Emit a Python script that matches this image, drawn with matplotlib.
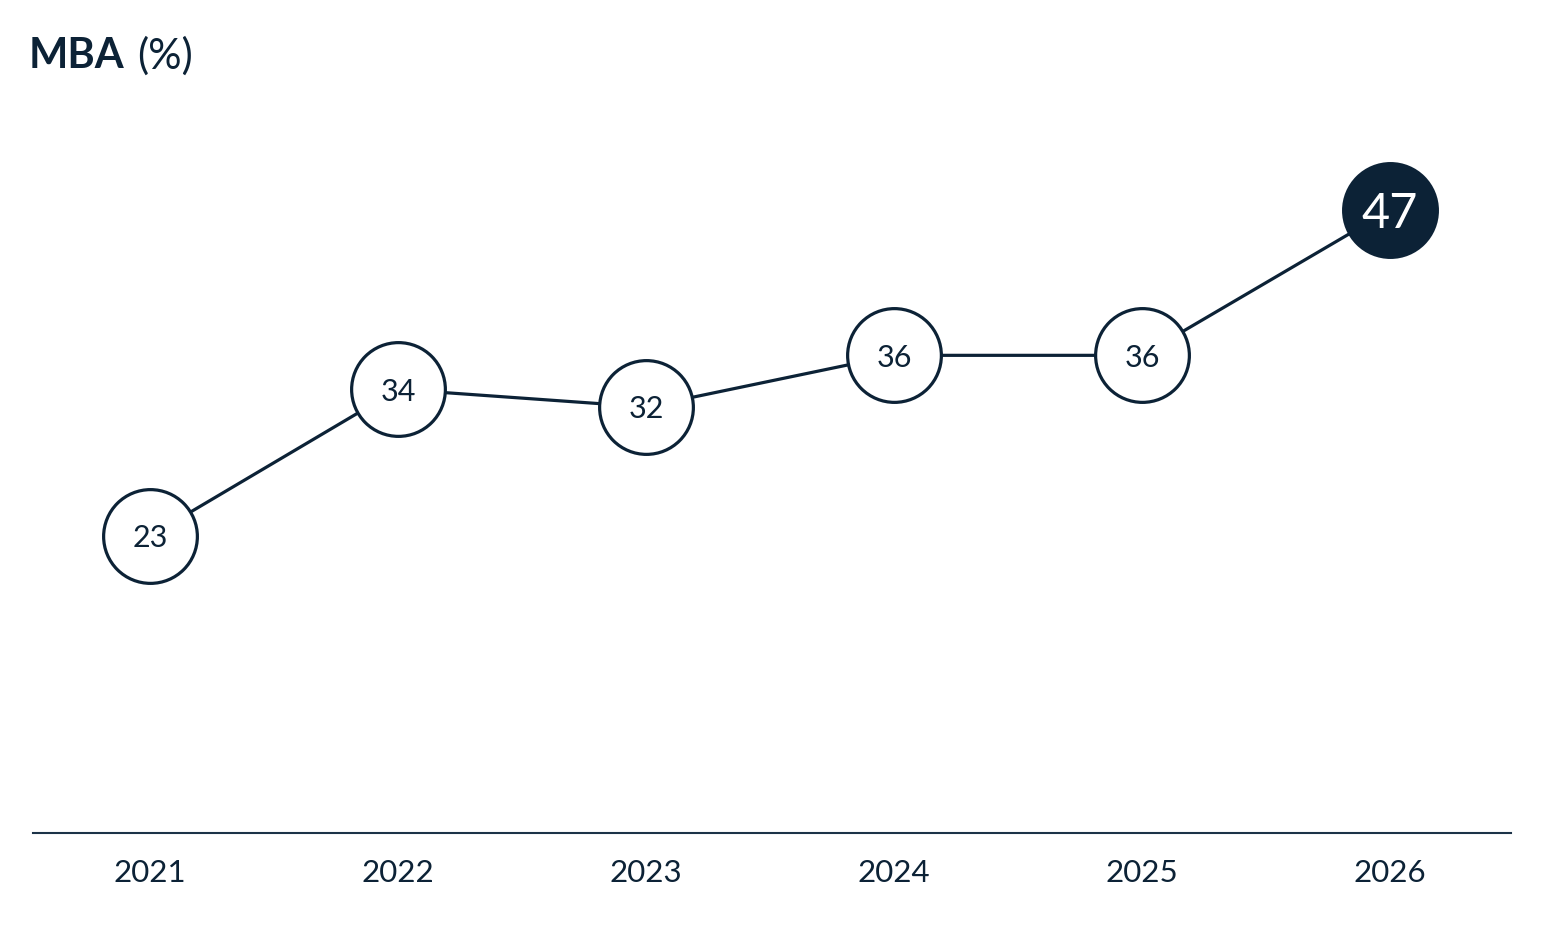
import matplotlib.pyplot as plt

navy = "#0c2236"
plt.rcParams["font.family"] = ["Lato", "DejaVu Sans"]

years = [2021, 2022, 2023, 2024, 2025, 2026]
# positions; the circles carry the rounded labels
mba_share = [23.0, 33.8, 32.5, 36.3, 36.3, 47.0]
point_labels = ["23", "34", "32", "36", "36", "47"]
year_labels = ["2021", "2022", "2023", "2024", "2025", "2026"]

W, H = 1548, 944
fig = plt.figure(figsize=(W / 100, H / 100), dpi=100)
fig.patch.set_facecolor("white")

# axes placed in pixel units: left 33, right 1511, bottom line at y=833
ax = fig.add_axes([33 / W, (H - 833) / H, (1511 - 33) / W, (833 - 100) / H])
ax.set_xlim(2020.528, 2026.488)
ax.set_ylim(1.13, 55.1)

ax.plot(years, mba_share, color=navy, lw=2.3, zorder=1)
ax.plot(years[:-1], mba_share[:-1], "o", ms=67.5, mfc="white", mec=navy, mew=2.3, zorder=2)
ax.plot(years[-1:], mba_share[-1:], "o", ms=67.5, mfc=navy, mec=navy, mew=2.3, zorder=2)

for x, v, lab in zip(years[:-1], mba_share[:-1], point_labels[:-1]):
    ax.text(x, v, lab, ha="center", va="center_baseline", fontsize=22, color=navy, zorder=3)
ax.text(years[-1], mba_share[-1], point_labels[-1], ha="center", va="center_baseline",
        fontsize=35, color="white", zorder=3)

ax.set_xticks(years)
ax.set_xticklabels(year_labels, fontsize=22.5, color=navy)
ax.tick_params(axis="x", length=0, pad=19)
ax.set_yticks([])
for side in ["top", "left", "right"]:
    ax.spines[side].set_visible(False)
ax.spines["bottom"].set_color("#1c3348")
ax.spines["bottom"].set_linewidth(1.5)
ax.set_facecolor("none")

fig.text(29 / W, 1 - 56 / H, "MBA", fontsize=30, fontweight="bold", color=navy,
         ha="left", va="center")
fig.text(137 / W, 1 - 56 / H, "(%)", fontsize=30, color=navy, ha="left", va="center")

fig.savefig("out.png", dpi=100, facecolor="white")
